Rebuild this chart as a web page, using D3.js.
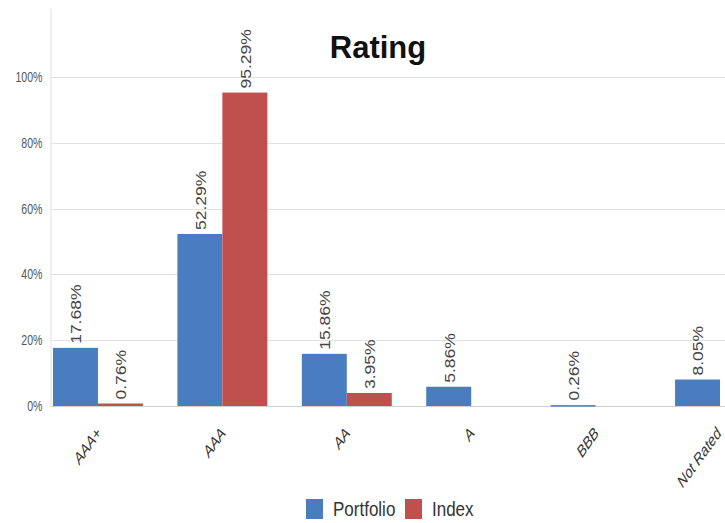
<!DOCTYPE html>
<html>
<head>
<meta charset="utf-8">
<script src="https://cdn.jsdelivr.net/npm/d3@7/dist/d3.min.js"></script>
<style>
  html, body { margin: 0; padding: 0; background: #fff; }
  svg { display: block; font-family: "Liberation Sans", Arial, sans-serif; }
</style>
</head>
<body>
<svg id="chart" width="725" height="523"></svg>
<script>
// Rating breakdown: portfolio vs. index weights (%)
const categories = ["AAA+", "AAA", "AA", "A", "BBB", "Not Rated"];
const portfolio = [17.68, 52.29, 15.86, 5.86, 0.26, 8.05];
const index = [0.76, 95.29, 3.95, null, null, null];
const seriesNames = ["Portfolio", "Index"];
const yTicks = [0, 20, 40, 60, 80, 100];

const colors = { Portfolio: "#4a7dbf", Index: "#c0504d" };

const svg = d3.select("#chart");
const W = 725, H = 523;
const stretch = 1.25; // text is drawn slightly taller than wide

const plot = { left: 51, top: 8, bottom: 406 };

const rows = categories.map((c, i) => ({
  cat: c,
  values: [
    { key: "Portfolio", v: portfolio[i] },
    { key: "Index", v: index[i] }
  ]
}));

const x0 = d3.scaleBand()
  .domain(categories)
  .range([plot.left, 767])
  .paddingInner(0.277)
  .paddingOuter(0.016);

const x1 = d3.scaleBand()
  .domain(seriesNames)
  .range([0, x0.bandwidth()]);

const y = d3.scaleLinear()
  .domain([0, 121])
  .range([plot.bottom, plot.top]);

// gridlines
svg.append("g")
  .selectAll("line")
  .data(yTicks)
  .join("line")
  .attr("x1", plot.left)
  .attr("x2", W)
  .attr("y1", d => Math.round(y(d)) + 0.5)
  .attr("y2", d => Math.round(y(d)) + 0.5)
  .attr("stroke", d => d === 0 ? "#d0d0d0" : "#e2e2e2")
  .attr("stroke-width", 1);

// y axis
const yAxis = svg.append("g")
  .attr("transform", `translate(${plot.left - 0.5},0)`)
  .call(d3.axisLeft(y).tickValues(yTicks).tickSize(0).tickPadding(7)
    .tickFormat(d => d + "%"));
yAxis.select(".domain").attr("stroke", "#e0e0e0");
yAxis.selectAll(".tick text")
  .attr("fill", "#555")
  .style("font-size", "12px")
  .attr("x", null)
  .attr("dy", null)
  .attr("dominant-baseline", "central")
  .attr("transform", "translate(-8,0) scale(0.88,1.18)");

// bars
const groups = svg.append("g")
  .selectAll("g")
  .data(rows)
  .join("g")
  .attr("transform", d => `translate(${x0(d.cat)},0)`);

groups.selectAll("rect")
  .data(d => d.values.filter(v => v.v !== null))
  .join("rect")
  .attr("x", d => x1(d.key))
  .attr("width", x1.bandwidth())
  .attr("y", d => y(d.v))
  .attr("height", d => Math.max(1.5, y(0) - y(d.v)))
  .attr("fill", d => colors[d.key]);

// value labels, rotated above each bar
groups.selectAll("text.val")
  .data(d => d.values.filter(v => v.v !== null))
  .join("text")
  .attr("class", "val")
  .attr("transform", d => {
    const cx = x1(d.key) + x1.bandwidth() / 2 + 1;
    const top = Math.min(y(d.v), y(0) - 1.5) - 4;
    return `translate(${cx},${top}) scale(1,${stretch}) rotate(-90)`;
  })
  .attr("text-anchor", "start")
  .attr("dominant-baseline", "central")
  .attr("fill", "#444")
  .style("font-size", "14px")
  .text(d => d.v.toFixed(2) + "%");

// category labels
svg.append("g")
  .selectAll("text")
  .data(categories)
  .join("text")
  .attr("transform", d => {
    const cx = Math.min(x0(d) + x0.bandwidth() / 2 + 4, W - 3);
    return `translate(${cx},${plot.bottom + 28}) scale(1,${stretch}) rotate(-48)`;
  })
  .attr("text-anchor", "end")
  .attr("fill", "#333")
  .style("font-size", "13px")
  .style("font-style", "italic")
  .text(d => d);

// title
svg.append("text")
  .attr("x", 378)
  .attr("y", 58)
  .attr("text-anchor", "middle")
  .attr("fill", "#111")
  .style("font-size", "31px")
  .style("font-weight", "bold")
  .text("Rating");

// legend
const legend = svg.append("g").attr("transform", "translate(306,499)");
const items = [
  { name: "Portfolio", x: 0 },
  { name: "Index", x: 99 }
];
items.forEach(it => {
  const g = legend.append("g").attr("transform", `translate(${it.x},0)`);
  g.append("rect").attr("width", 17).attr("height", 20).attr("fill", colors[it.name]);
  g.append("text")
    .attr("transform", `translate(27,17) scale(1,1.2)`)
    .attr("fill", "#333")
    .style("font-size", "17px")
    .text(it.name);
});
</script>
</body>
</html>
